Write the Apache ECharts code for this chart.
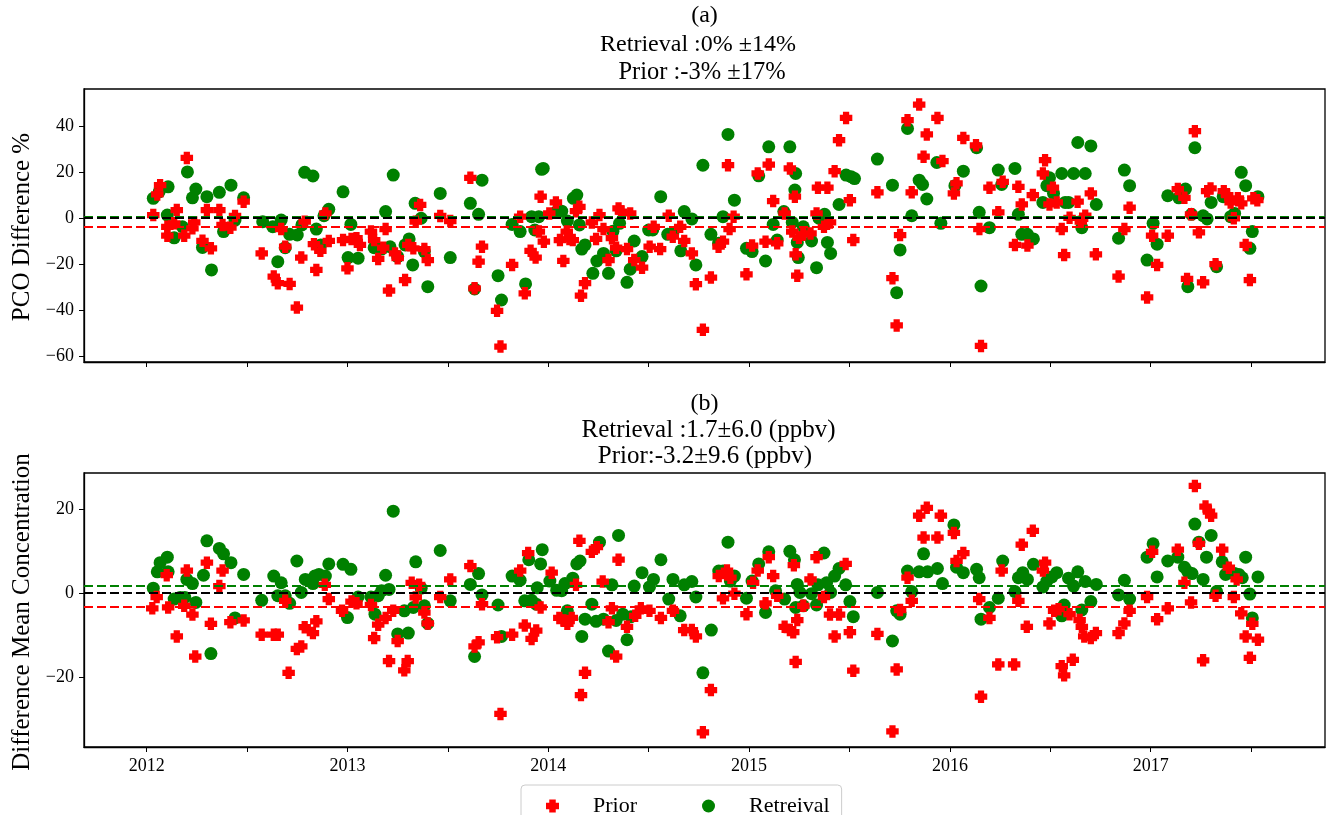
<!DOCTYPE html>
<html><head><meta charset="utf-8">
<script src="https://cdn.jsdelivr.net/npm/echarts@6/dist/echarts.min.js"></script>
<style>html,body{margin:0;padding:0;background:#fff}#c{width:1333px;height:815px}</style>
</head><body><div id="c"></div>
<script>
// ---------- axis / text data ----------
const xTickValues = [2012, 2012.5, 2013, 2013.5, 2014, 2014.5, 2015, 2015.5, 2016, 2016.5, 2017, 2017.5];
const xLabelValues = [2012, 2013, 2014, 2015, 2016, 2017];
const yTicksA = [-60, -40, -20, 0, 20, 40];
const yTicksB = [-20, 0, 20];
const titleA = ['(a)', 'Retrieval :0% \u00b114%', 'Prior :-3% \u00b117%'];
const titleB = ['(b)', 'Retrieval :1.7\u00b16.0 (ppbv)', 'Prior:-3.2\u00b19.6 (ppbv)'];
const yNameA = 'PCO Difference %';
const yNameB = 'Difference Mean Concentration';
const legendNames = ['Prior', 'Retreival'];
// reference lines: [zero, retrieval mean, prior mean]
const linesA = [0, 0.4, -3.8];
const linesB = [0, 1.7, -3.2];

// ---------- panel (a): PCO difference % ----------
const priorA_x = [2012.033,2012.053,2012.067,2012.103,2012.103,2012.137,2012.15,2012.187,2012.20,2012.228,2012.237,2012.278,2012.30,2012.32,2012.362,2012.378,2012.417,2012.44,2012.483,2012.573,2012.633,2012.653,2012.67,2012.69,2012.712,2012.748,2012.77,2012.787,2012.833,2012.845,2012.865,2012.89,2012.907,2012.978,2013.0,2013.02,2013.045,2013.062,2013.117,2013.133,2013.153,2013.178,2013.19,2013.207,2013.237,2013.25,2013.287,2013.303,2013.328,2013.34,2013.362,2013.383,2013.4,2013.462,2013.512,2013.612,2013.633,2013.653,2013.67,2013.745,2013.762,2013.82,2013.86,2013.883,2013.912,2013.937,2013.953,2013.962,
2013.978,2014.005,2014.038,2014.058,2014.075,2014.092,2014.105,2014.122,2014.138,2014.155,2014.163,2014.183,2014.217,2014.238,2014.255,2014.275,2014.3,2014.317,2014.338,2014.35,2014.362,2014.392,2014.408,2014.428,2014.467,2014.505,2014.525,2014.557,2014.6,2014.62,2014.657,2014.677,2014.715,2014.735,2014.77,2014.81,2014.848,2014.87,2014.895,2014.903,2014.923,2014.987,2015.015,2015.043,2015.082,2015.098,2015.12,2015.14,2015.177,2015.203,2015.215,2015.228,2015.232,2015.24,2015.248,2015.27,2015.306,2015.336,2015.343,2015.373,2015.39,2015.403,2015.426,2015.448,2015.483,2015.502,2015.519,2015.639,2015.714,2015.735,2015.752,2015.789,2015.81,2015.847,2015.869,2015.885,2015.938,
2015.963,2016.02,2016.033,2016.067,2016.13,2016.147,2016.155,2016.197,2016.241,2016.263,2016.324,2016.341,2016.358,2016.386,2016.413,2016.463,2016.474,2016.496,2016.513,2016.532,2016.557,2016.569,2016.596,2016.636,2016.652,2016.674,2016.702,2016.727,2016.84,2016.869,2016.895,2016.982,2017.007,2017.032,2017.085,2017.135,2017.168,2017.181,2017.201,2017.22,2017.24,2017.261,2017.281,2017.298,2017.323,2017.364,2017.381,2017.398,2017.414,2017.434,2017.451,2017.473,2017.494,2017.511,2017.531];
const priorA_y = [1.3,10.3,14.3,-3.8,-7.7,-2.3,3.5,-7.7,26.2,-4.5,-1.9,-9.9,3.5,-13.2,3.5,-3.0,-4.2,0.9,7.1,-15.4,-25.5,-28.4,-4.8,-12.5,-28.7,-39,-17.2,-1.6,-11.4,-22.6,-14.3,2.0,-10,-9.6,-21.9,-9.1,-8.8,-11.7,-5.9,-9.6,-17.8,-12.9,-4.8,-31.6,-15.4,-17.5,-27,-11.7,-13.2,-1.6,5.7,-13.5,-18.3,0.9,-1.3,17.5,-30.6,-19,-12.5,-40.4,-56,-20.4,0.6,-32.8,-14.3,-17.2,-5.9,9.3,
-10.3,2.0,6.8,-9.6,-18.7,-5.9,-9.1,-9.6,3.0,4.9,-33.8,-28.4,-1.9,-9.1,1.3,-4.8,-18.3,-8.8,-12.9,4.2,2.8,-13.5,2.0,-18.3,-21.6,-12.5,-3.8,-13.5,1.0,-8.1,-3.8,-10,-15.4,-28.8,-48.7,-25.9,-12.5,-10.3,23,-4.8,0.6,-24.5,-12,19.4,-10.3,23.3,7.4,-11,2.0,21.6,-5.9,9.3,-15.8,-25.1,-8.6,-7.1,-6.7,2.0,13.2,-3.8,13.2,-1.9,20.4,33.9,43.6,7.8,-9.6,11.2,-26.2,-46.8,-7.4,42.6,11.2,49.4,26.7,36.4,43.6,
24.8,10.7,15.1,34.9,31.7,-4.8,-55.7,13.2,2.5,15.8,-11.7,13.6,5.9,-12,10,19.4,25.2,5.9,13.2,6.8,-4.8,-16.1,0.1,7.1,-1.6,1.0,10.7,-15.8,-25.5,-4.8,4.5,-34.6,-7.7,-20.4,-7.7,12.6,8.8,-26.5,1.6,37.8,-6.2,-28,11.7,12.9,-20.1,11.7,10,6.8,-0.1,8.6,6.4,-11.7,-27,8.6,7.8];

const retrA_x = [2012.033,2012.062,2012.103,2012.107,2012.137,2012.178,2012.203,2012.228,2012.245,2012.278,2012.30,2012.323,2012.362,2012.383,2012.42,2012.44,2012.483,2012.578,2012.628,2012.653,2012.67,2012.69,2012.712,2012.75,2012.773,2012.787,2012.828,2012.845,2012.867,2012.883,2012.907,2012.978,2013.003,2013.017,2013.053,2013.133,2013.17,2013.19,2013.212,2013.228,2013.25,2013.287,2013.307,2013.325,2013.337,2013.367,2013.383,2013.4,2013.462,2013.512,2013.612,2013.633,2013.653,2013.67,2013.75,2013.767,2013.82,2013.86,2013.887,2013.917,2013.933,2013.953,2013.967,2013.975,
2014.042,2014.067,2014.095,2014.125,2014.142,2014.155,2014.167,2014.183,2014.222,2014.242,2014.275,2014.3,2014.322,2014.338,2014.355,2014.392,2014.408,2014.428,2014.467,2014.5,2014.52,2014.56,2014.595,2014.62,2014.66,2014.677,2014.715,2014.735,2014.77,2014.81,2014.848,2014.87,2014.895,2014.927,2014.987,2015.015,2015.048,2015.082,2015.098,2015.12,2015.14,2015.173,2015.203,2015.215,2015.228,2015.232,2015.24,2015.245,2015.27,2015.311,2015.336,2015.348,2015.376,2015.39,2015.406,2015.448,2015.483,2015.508,2015.525,2015.639,2015.714,2015.735,2015.752,2015.789,2015.81,2015.847,2015.864,2015.885,2015.935,2015.955,
2016.025,2016.067,2016.133,2016.146,2016.155,2016.197,2016.241,2016.258,2016.324,2016.341,2016.358,2016.386,2016.416,2016.463,2016.483,2016.496,2016.516,2016.557,2016.574,2016.591,2016.616,2016.637,2016.657,2016.674,2016.702,2016.729,2016.84,2016.869,2016.895,2016.982,2017.012,2017.032,2017.085,2017.14,2017.173,2017.185,2017.203,2017.22,2017.261,2017.281,2017.301,2017.328,2017.361,2017.398,2017.418,2017.451,2017.473,2017.494,2017.506,2017.534];
const retrA_y = [8.6,11.4,1.3,13.6,-8.6,-3.8,20.1,8.8,12.6,-12.8,9.3,-22.6,11.2,-5.9,14.3,-0.9,8.8,-1.6,-3.8,-19,-0.9,-12.9,-7.1,-7.4,-3.0,19.9,18.3,-4.8,-11.7,1.0,3.8,11.4,-17.2,-2.8,-17.5,-12.9,-13.5,2.8,-12.5,18.7,-16.8,-11.7,-9.1,-20.4,6.4,-0.1,-14.6,-29.9,10.7,-17.2,6.4,-30.9,1.6,16.5,-25.1,-35.7,-2.8,-5.9,-28.7,0.6,-5.2,0.6,21.2,21.6,
2.8,3.0,-1.3,8.6,10,-3.0,-13.5,-11.7,-24.1,-18.7,-15.4,-24.1,-5.7,-14.3,-2.3,-28,-22.3,-10,-16.8,-5.2,-5.2,9.3,-7.1,-6.7,-14.3,2.8,-0.4,-20.4,23,-7.1,-11,0.6,36.4,7.8,-13.2,-14.6,18.4,-18.7,31,-2.8,-9.6,2.8,31,-1.9,12.2,19.4,-10.6,-17.2,-3.8,-10,-21.6,-0.1,1.6,-10.6,-15.4,5.9,18.7,18,17.2,25.7,14.3,-32.5,-13.9,39,1.0,16.5,14.6,8.3,24.2,-2.3,
14.1,20.4,30.6,2.5,-29.6,-4.2,20.9,14.6,21.6,1.6,-7.1,-7.1,-9.1,6.8,14.1,17.5,10.7,19.4,6.8,6.8,19.4,32.9,-4.2,19.4,31.4,5.9,-8.8,20.9,14.1,-18.3,-2.3,-11.4,9.7,8.8,12.6,-29.9,1.6,30.6,1.0,-0.4,6.8,-21.2,9.3,0.6,2.0,19.9,14.1,-13.2,-5.9,9.3];

// ---------- panel (b): difference in mean concentration (ppbv) ----------
const priorB_x = [2012.028,2012.05,2012.1,2012.107,2012.15,2012.187,2012.2,2012.228,2012.242,2012.3,2012.32,2012.362,2012.378,2012.417,2012.483,2012.573,2012.633,2012.653,2012.69,2012.707,2012.748,2012.77,2012.787,2012.828,2012.845,2012.887,2012.907,2012.973,2013.02,2013.045,2013.117,2013.133,2013.153,2013.19,2013.207,2013.228,2013.25,2013.283,2013.3,2013.32,2013.34,2013.357,2013.383,2013.4,2013.462,2013.512,2013.612,2013.633,2013.653,2013.67,2013.745,2013.762,2013.82,2013.86,2013.883,2013.9,2013.917,2013.94,2013.962,
2014.017,2014.055,2014.075,2014.095,2014.117,2014.138,2014.155,2014.163,2014.183,2014.217,2014.242,2014.271,2014.3,2014.317,2014.338,2014.35,2014.392,2014.433,2014.461,2014.504,2014.561,2014.621,2014.677,2014.715,2014.735,2014.77,2014.81,2014.849,2014.87,2014.89,2014.907,2014.927,2014.987,2015.02,2015.043,2015.082,2015.098,2015.12,2015.14,2015.177,2015.203,2015.22,2015.223,2015.232,2015.24,2015.27,2015.306,2015.336,2015.373,2015.403,2015.426,2015.448,2015.481,2015.502,2015.519,2015.639,2015.714,2015.735,2015.752,2015.789,2015.81,2015.847,2015.869,2015.885,2015.938,2015.955,
2016.02,2016.033,2016.067,2016.146,2016.155,2016.197,2016.241,2016.258,2016.32,2016.341,2016.358,2016.383,2016.413,2016.463,2016.474,2016.496,2016.519,2016.541,2016.557,2016.569,2016.596,2016.612,2016.646,2016.657,2016.669,2016.702,2016.727,2016.84,2016.869,2016.895,2016.982,2017.007,2017.032,2017.085,2017.135,2017.168,2017.201,2017.22,2017.24,2017.261,2017.273,2017.29,2017.301,2017.323,2017.356,2017.389,2017.414,2017.428,2017.451,2017.473,2017.494,2017.506,2017.534];
const priorB_y = [-3.6,-0.9,4.3,-3.4,-10.3,-3.0,5.4,-5.1,-15.1,7.3,-7.3,1.7,5.4,-6.9,-6.5,-9.9,-9.9,-9.9,-1.8,-19,-13.3,-12.7,-8.1,-9.5,-6.7,2.0,-1.4,-4.2,-2.0,-2.4,-2.8,-10.7,-7.5,-5.9,-16.2,-4.2,-11.4,-18.4,-16.2,2.5,-1.0,2.0,-4.6,-7.2,-0.9,3.3,6.5,-12.7,-11.7,-2.6,-10.5,-28.8,-9.9,5.4,-7.7,9.6,-10.9,-8.9,-3.4,
4.9,-5.9,-6.5,-7.3,-5.9,2.0,12.5,-24.3,-19,9.9,11,2.8,-6.9,-3.6,-15.1,8.0,-8.0,-5.4,-3.6,-4.2,-5.9,-4.2,-8.8,-8.8,-10.3,-33.2,-23.1,4.1,-1.2,5.4,3.7,-0.1,-5.0,2.5,5.4,-2.4,8.6,4.1,-0.6,-8.0,-8.8,-9.3,6.7,-16.4,-6.4,-3.0,3.3,8.6,-0.9,-5.1,-10.3,-5.1,7.0,-9.3,-18.5,-9.7,-33,-18.2,-4.0,3.7,-1.8,18.5,13.3,20.4,13.3,18.5,
14.4,7.7,9.6,-1.4,-24.7,-5.9,-17,5.4,-17,-1.8,11.6,-8.0,14.9,5.4,7.3,-7.2,-4.2,-3.8,-17.4,-19.6,-5.0,-15.9,-6.4,-8.0,-10.3,-10.7,-9.5,-9.5,-7.2,-4.2,-0.9,9.9,-6.2,-3.6,10.4,2.5,-2.2,25.6,11.8,-16,20.7,19.5,18.5,-0.6,10.4,6.1,-0.9,3.3,-4.8,-10.3,-15.4,-7.3,-11.1];

const retrB_x = [2012.033,2012.053,2012.067,2012.103,2012.107,2012.137,2012.167,2012.19,2012.2,2012.228,2012.245,2012.283,2012.3,2012.32,2012.362,2012.383,2012.42,2012.44,2012.483,2012.573,2012.633,2012.653,2012.67,2012.69,2012.712,2012.748,2012.77,2012.79,2012.828,2012.837,2012.858,2012.89,2012.907,2012.978,2013.0,2013.017,2013.053,2013.117,2013.137,2013.153,2013.17,2013.19,2013.207,2013.228,2013.25,2013.283,2013.303,2013.328,2013.34,2013.367,2013.383,2013.4,2013.462,2013.512,2013.612,2013.633,2013.653,2013.67,2013.75,2013.767,2013.82,2013.86,2013.883,2013.903,2013.917,2013.94,2013.945,2013.962,2013.97,
2014.008,2014.042,2014.067,2014.083,2014.095,2014.122,2014.142,2014.158,2014.167,2014.183,2014.217,2014.238,2014.255,2014.275,2014.3,2014.317,2014.338,2014.35,2014.371,2014.392,2014.412,2014.428,2014.467,2014.504,2014.524,2014.561,2014.6,2014.621,2014.657,2014.677,2014.715,2014.735,2014.77,2014.812,2014.849,2014.87,2014.895,2014.907,2014.927,2014.987,2015.015,2015.048,2015.082,2015.098,2015.132,2015.177,2015.203,2015.226,2015.232,2015.24,2015.253,2015.27,2015.311,2015.336,2015.343,2015.373,2015.386,2015.406,2015.426,2015.448,2015.481,2015.502,2015.519,2015.639,2015.714,2015.735,2015.752,2015.789,2015.81,2015.847,2015.869,2015.889,2015.938,2015.963,
2016.02,2016.033,2016.067,2016.133,2016.146,2016.155,2016.197,2016.241,2016.263,2016.324,2016.341,2016.363,2016.386,2016.416,2016.463,2016.483,2016.508,2016.532,2016.557,2016.569,2016.591,2016.616,2016.637,2016.657,2016.674,2016.702,2016.729,2016.84,2016.869,2016.895,2016.982,2017.012,2017.032,2017.085,2017.135,2017.168,2017.185,2017.206,2017.22,2017.24,2017.261,2017.278,2017.301,2017.328,2017.356,2017.373,2017.394,2017.418,2017.439,2017.456,2017.473,2017.494,2017.506,2017.534];
const retrB_y = [1.2,5.1,7.3,8.6,5.1,-1.4,-1.0,-1.0,3.3,2.3,-2.2,4.3,12.5,-14.4,10.7,9.4,7.3,-5.9,4.5,-1.7,4.1,-0.6,2.5,-0.6,-2.4,7.7,0.2,3.3,2.3,4.1,4.5,4.1,7.0,6.9,-5.8,5.7,-0.9,-0.9,-5.0,-0.6,0.6,4.3,0.9,19.6,-9.7,-4.2,-9.5,-3.4,7.5,1.2,-3.0,-7.2,10.2,-1.8,2.1,-15.1,4.7,-0.4,-2.8,-10.3,4.1,3.1,-1.8,8.0,-1.7,-2.6,1.3,7.0,10.4,
2.9,0.7,0.6,2.3,-4.2,3.6,7.0,7.7,-10.3,-6.2,-2.6,-6.7,12.2,-6.2,-13.8,2.0,-6.5,13.8,-5.0,-11.1,-5.6,1.7,4.9,1.5,3.3,8.0,-1.4,3.3,-5.4,2.0,2.8,-0.9,-19,-8.8,5.3,5.3,12.2,2.9,4.1,-1.2,2.9,7.0,-4.6,9.9,0.6,-1.4,10.0,8.0,-3.4,2.1,0.2,-3.0,-0.1,-2.8,2.0,9.6,2.5,0.2,4.1,5.9,2.0,-2.0,-5.6,0.2,-11.4,-4.2,-5.0,5.3,0.4,5.1,9.4,5.1,5.9,2.3,
16.3,6.2,4.9,5.7,3.7,-6.2,-3.4,-1.2,7.7,0.4,3.7,4.9,3.3,6.9,1.5,2.9,3.9,4.9,-5.4,-2.8,3.6,1.7,5.1,-4.0,2.8,-2.0,2.1,-0.4,3.1,-1.4,8.6,11.8,3.9,7.7,8.6,6.2,5.1,4.7,16.5,12.2,3.3,8.6,13.8,0.4,7.5,4.5,4.9,4.7,4.5,3.7,8.6,-0.2,-5.9,3.9];

// ---------- build chart ----------
const zip = (xs, ys) => xs.map((x, i) => [x, ys[i]]);
const plusPath = 'path://M1 0H3V1H4V3H3V4H1V3H0V1H1Z';
const FONT = '"Liberation Serif", "DejaVu Serif", serif';
const RED = '#ff0000', GREEN = '#008000';
const fmtMinus = v => String(v).replace('-', '\u2212');

function xAxis(gridIndex, showLabels) {
  return {
    type: 'value', gridIndex, min: 2011.688, max: 2017.868,
    axisLine: { show: true, onZero: false, lineStyle: { color: '#000', width: 1.3 } },
    axisTick: { show: true, length: 5, inside: false, customValues: xTickValues, lineStyle: { color: '#000', width: 1 } },
    axisLabel: { show: showLabels, customValues: xLabelValues, formatter: v => String(Math.round(v)), margin: 10,
      fontFamily: FONT, fontSize: 18, color: '#000' },
    splitLine: { show: false }
  };
}
function yAxis(gridIndex, min, max, ticks) {
  return {
    type: 'value', gridIndex, min, max,
    axisLine: { show: true, lineStyle: { color: '#000', width: 1.3 } },
    axisTick: { show: true, length: 5, customValues: ticks, lineStyle: { color: '#000', width: 1 } },
    axisLabel: { customValues: ticks, formatter: fmtMinus, margin: 10, fontFamily: FONT, fontSize: 18, color: '#000' },
    splitLine: { show: false }
  };
}
function refLines(idx, vals) {
  const colors = ['#000000', GREEN, RED];
  const order = [2, 1, 0];
  return {
    type: 'scatter', xAxisIndex: idx, yAxisIndex: idx, data: [], silent: true, z: 5,
    markLine: {
      silent: true, symbol: ['none', 'none'], animation: false, label: { show: false },
      data: order.map(k => ({ yAxis: vals[k], lineStyle: { color: colors[k], width: 2, type: [9, 4] } }))
    }
  };
}
function scatter(name, idx, xs, ys, isPrior) {
  return {
    name, type: 'scatter', xAxisIndex: idx, yAxisIndex: idx,
    data: zip(xs, ys),
    symbol: isPrior ? plusPath : 'circle',
    symbolSize: isPrior ? 12.5 : 13,
    itemStyle: { color: isPrior ? RED : GREEN, opacity: 1 },
    z: isPrior ? 3 : 2, animation: false
  };
}
function textEl(text, x, y, size, rot) {
  return { type: 'text', x, y, rotation: rot || 0, silent: true,
    style: { text, fill: '#000', font: size + 'px ' + FONT, textAlign: 'center', textVerticalAlign: 'middle' } };
}

const chart = echarts.init(document.getElementById('c'), null, { renderer: 'canvas' });
chart.setOption({
  backgroundColor: '#fff',
  animation: false,
  grid: [
    { left: 84, top: 89, width: 1241, height: 273, show: true, borderColor: '#000', borderWidth: 1.3, backgroundColor: 'transparent' },
    { left: 84, top: 473, width: 1241, height: 274, show: true, borderColor: '#000', borderWidth: 1.3, backgroundColor: 'transparent' }
  ],
  xAxis: [xAxis(0, false), xAxis(1, true)],
  yAxis: [yAxis(0, -62.7, 56.2, yTicksA), yAxis(1, -36.7, 28.7, yTicksB)],
  legend: {
    data: legendNames, left: 521, top: 785, orient: 'horizontal',
    padding: [10, 12, 10, 25], itemGap: 65, itemWidth: 13, itemHeight: 13,
    borderColor: '#cccccc', borderWidth: 1, borderRadius: 4, backgroundColor: '#fff',
    textStyle: { fontFamily: FONT, fontSize: 22, color: '#000', padding: [0, 0, 0, 29] }
  },
  graphic: [
    textEl(titleA[0], 704.5, 16, 24), textEl(titleA[1], 698, 45, 24), textEl(titleA[2], 702, 73, 24.5),
    textEl(titleB[0], 704.5, 404, 24), textEl(titleB[1], 708.5, 430, 25), textEl(titleB[2], 705, 456, 25),
    textEl(yNameA, 22, 227, 25, Math.PI / 2),
    textEl(yNameB, 22, 612, 25, Math.PI / 2)
  ],
  series: [
    scatter(legendNames[1], 0, retrA_x, retrA_y, false),
    scatter(legendNames[0], 0, priorA_x, priorA_y, true),
    scatter(legendNames[1], 1, retrB_x, retrB_y, false),
    scatter(legendNames[0], 1, priorB_x, priorB_y, true),
    refLines(0, linesA),
    refLines(1, linesB)
  ]
});
</script>
</body></html>
